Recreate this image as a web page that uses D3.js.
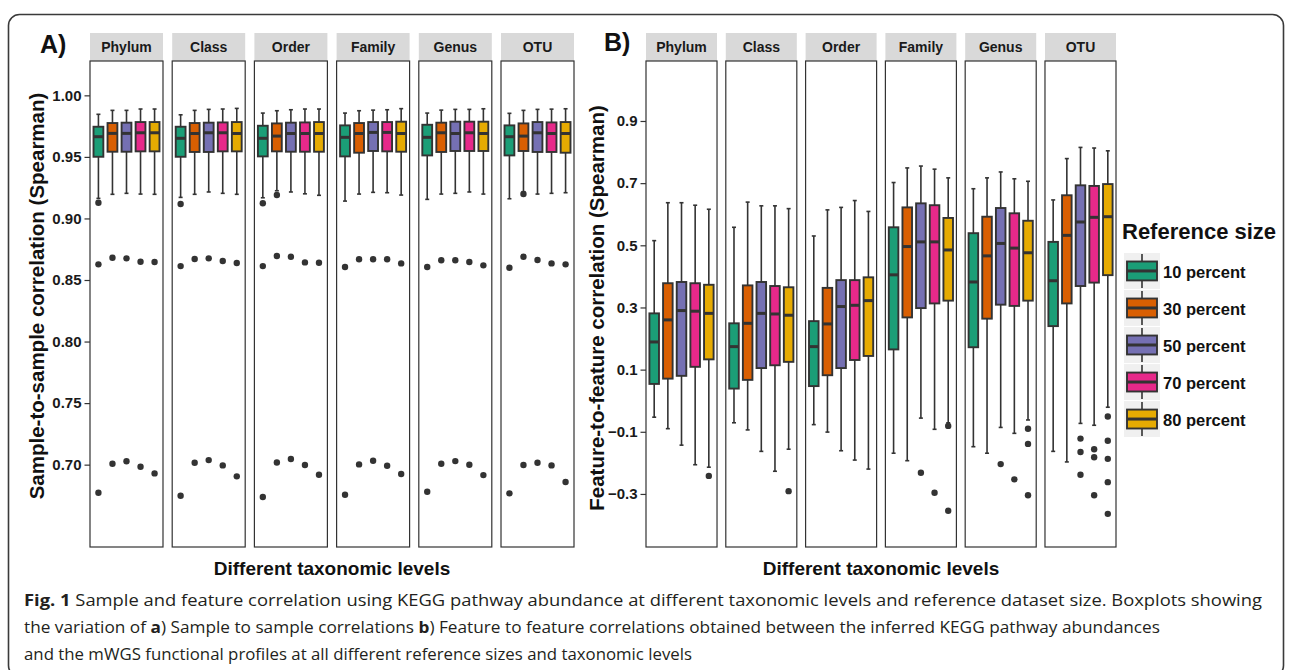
<!DOCTYPE html>
<html>
<head>
<meta charset="utf-8">
<script src="https://cdn.jsdelivr.net/npm/d3@7"></script>
<style>
  html, body { margin: 0; padding: 0; background: #ffffff; }
  svg { display: block; }
</style>
</head>
<body>
<svg id="fig" width="1292" height="670"></svg>
<script>
// ---- data -------------------------------------------------------------
const levels = ["Phylum", "Class", "Order", "Family", "Genus", "OTU"];
const refSizes = ["10 percent", "30 percent", "50 percent", "70 percent", "80 percent"];
const sizeColors = ["#1B9E77", "#D95F02", "#7570B3", "#E7298A", "#E6AB02"];

// A) sample-to-sample Spearman correlation: one row per level, one column per reference size
const sampleLow = [
  [0.9163, 0.9196, 0.9204, 0.9198, 0.9196],
  [0.9171, 0.9196, 0.9215, 0.9204, 0.9196],
  [0.9168, 0.9225, 0.9215, 0.9200, 0.9188],
  [0.9141, 0.9198, 0.9212, 0.9209, 0.9190],
  [0.9155, 0.9198, 0.9204, 0.9215, 0.9198],
  [0.9160, 0.9217, 0.9198, 0.9204, 0.9209]
];
const sampleQ1 = [
  [0.9501, 0.9542, 0.9542, 0.9545, 0.9545],
  [0.9501, 0.9540, 0.9540, 0.9545, 0.9545],
  [0.9504, 0.9545, 0.9542, 0.9542, 0.9542],
  [0.9504, 0.9534, 0.9548, 0.9545, 0.9542],
  [0.9512, 0.9540, 0.9548, 0.9548, 0.9548],
  [0.9512, 0.9548, 0.9540, 0.9540, 0.9534]
];
const sampleMedian = [
  [0.9664, 0.9691, 0.9691, 0.9696, 0.9696],
  [0.9651, 0.9690, 0.9696, 0.9696, 0.9690],
  [0.9651, 0.9669, 0.9690, 0.9690, 0.9690],
  [0.9659, 0.9690, 0.9699, 0.9699, 0.9690],
  [0.9659, 0.9696, 0.9690, 0.9696, 0.9690],
  [0.9664, 0.9669, 0.9696, 0.9690, 0.9690]
];
const sampleQ3 = [
  [0.9745, 0.9775, 0.9778, 0.9783, 0.9783],
  [0.9745, 0.9775, 0.9778, 0.9780, 0.9783],
  [0.9753, 0.9772, 0.9778, 0.9780, 0.9783],
  [0.9756, 0.9775, 0.9783, 0.9783, 0.9786],
  [0.9761, 0.9778, 0.9786, 0.9786, 0.9786],
  [0.9756, 0.9772, 0.9783, 0.9780, 0.9783]
];
const sampleHigh = [
  [0.9846, 0.9878, 0.9878, 0.9889, 0.9889],
  [0.9842, 0.9878, 0.9886, 0.9889, 0.9894],
  [0.9856, 0.9875, 0.9883, 0.9889, 0.9889],
  [0.9856, 0.9875, 0.9880, 0.9883, 0.9892],
  [0.9856, 0.9880, 0.9886, 0.9886, 0.9891],
  [0.9854, 0.9878, 0.9886, 0.9888, 0.9891]
];
const sampleOutliers = [
  [[0.9128, 0.8627, 0.6772], [0.8681, 0.7007], [0.8676, 0.7027], [0.8648, 0.6983], [0.8646, 0.6929]],
  [[0.9117, 0.8613, 0.6747], [0.8670, 0.7015], [0.8676, 0.7037], [0.8654, 0.6994], [0.8638, 0.6905]],
  [[0.9123, 0.8613, 0.6737], [0.9190, 0.8695, 0.7018], [0.8689, 0.7046], [0.8643, 0.6997], [0.8640, 0.6918]],
  [[0.8605, 0.6756], [0.8668, 0.7002], [0.8668, 0.7032], [0.8668, 0.6991], [0.8635, 0.6924]],
  [[0.8605, 0.6780], [0.8660, 0.7007], [0.8660, 0.7029], [0.8646, 0.6999], [0.8619, 0.6915]],
  [[0.8600, 0.6767], [0.9198, 0.8689, 0.6997], [0.8662, 0.7015], [0.8635, 0.6994], [0.8627, 0.6859]]
];

// B) feature-to-feature Spearman correlation
const featureLow = [
  [-0.053, -0.090, -0.143, -0.206, -0.214],
  [-0.071, -0.094, -0.163, -0.227, -0.156],
  [-0.077, -0.101, -0.161, -0.191, -0.220],
  [-0.169, -0.193, -0.056, -0.092, -0.071],
  [-0.148, -0.169, -0.086, -0.105, -0.062],
  [-0.163, -0.197, -0.073, -0.079, -0.021]
];
const featureQ1 = [
  [0.054, 0.071, 0.080, 0.109, 0.133],
  [0.039, 0.067, 0.105, 0.114, 0.125],
  [0.047, 0.082, 0.105, 0.131, 0.144],
  [0.165, 0.268, 0.298, 0.313, 0.322],
  [0.172, 0.264, 0.309, 0.305, 0.322],
  [0.240, 0.313, 0.369, 0.380, 0.404]
];
const featureMedian = [
  [0.189, 0.260, 0.290, 0.288, 0.281],
  [0.174, 0.249, 0.281, 0.279, 0.275],
  [0.174, 0.247, 0.303, 0.307, 0.322],
  [0.405, 0.496, 0.511, 0.511, 0.485],
  [0.382, 0.466, 0.506, 0.491, 0.476],
  [0.386, 0.532, 0.575, 0.590, 0.592]
];
const featureQ3 = [
  [0.281, 0.378, 0.382, 0.378, 0.373],
  [0.249, 0.371, 0.382, 0.369, 0.365],
  [0.256, 0.363, 0.388, 0.388, 0.397],
  [0.558, 0.622, 0.635, 0.629, 0.588],
  [0.539, 0.592, 0.620, 0.603, 0.579],
  [0.511, 0.661, 0.693, 0.691, 0.697]
];
const featureHigh = [
  [0.515, 0.637, 0.637, 0.629, 0.616],
  [0.558, 0.639, 0.627, 0.627, 0.618],
  [0.530, 0.614, 0.622, 0.644, 0.609],
  [0.702, 0.749, 0.755, 0.745, 0.717],
  [0.682, 0.717, 0.736, 0.714, 0.706],
  [0.646, 0.779, 0.815, 0.813, 0.804]
];
const featureOutliers = [
  [[], [], [], [], [-0.242]],
  [[], [], [], [], [-0.291]],
  [[], [], [], [], []],
  [[], [], [-0.232], [-0.296], [-0.081, -0.354]],
  [[], [], [-0.204], [-0.253], [-0.090, -0.139, -0.304]],
  [[], [], [-0.122, -0.165, -0.238], [-0.156, -0.182, -0.304], [-0.051, -0.129, -0.187, -0.262, -0.364]]
];

const sampleTicks = [0.70, 0.75, 0.80, 0.85, 0.90, 0.95, 1.00];
const featureTicks = [-0.3, -0.1, 0.1, 0.3, 0.5, 0.7, 0.9];

// ---- drawing ----------------------------------------------------------
const svg = d3.select("#fig");
const FONT = "'Liberation Sans', Arial, Helvetica, sans-serif";
const INK = "#333333";
const PANEL_TOP = 61, PANEL_BOTTOM = 547, STRIP_TOP = 33;

// rounded frame around the figure
svg.append("rect")
  .attr("x", 8.5).attr("y", 14.5).attr("width", 1275).attr("height", 662)
  .attr("rx", 11).attr("fill", "none")
  .attr("stroke", "#3a3a3a").attr("stroke-width", 1.6);

function drawPanel(p) {
  const g = svg.append("g");
  const facet = d3.scaleBand().domain(levels).range(p.xRange).paddingInner(p.gap);
  const bw = facet.bandwidth();
  const y = d3.scaleLinear().domain(p.yDomain).range([PANEL_BOTTOM, PANEL_TOP]);
  const inner = d3.scalePoint().domain(refSizes).range([0, bw]).padding(0.6);
  const boxW = inner.step() * 0.7;
  const capW = 2;

  levels.forEach((lv, li) => {
    const x0 = facet(lv);
    // facet strip
    g.append("rect")
      .attr("x", x0).attr("y", STRIP_TOP).attr("width", bw).attr("height", PANEL_TOP - STRIP_TOP)
      .attr("fill", "#d9d9d9");
    g.append("text")
      .attr("x", x0 + bw / 2).attr("y", 52)
      .attr("text-anchor", "middle")
      .attr("font-family", FONT).attr("font-weight", "bold").attr("font-size", 14)
      .attr("fill", "#1a1a1a")
      .text(lv);

    const pg = g.append("g").attr("transform", `translate(${x0},0)`);
    pg.append("rect")
      .attr("x", 0).attr("y", PANEL_TOP).attr("width", bw).attr("height", PANEL_BOTTOM - PANEL_TOP)
      .attr("fill", "#ffffff");

    refSizes.forEach((rs, si) => {
      const cx = inner(rs);
      const lo = p.low[li][si], q1 = p.q1[li][si], med = p.median[li][si],
            q3 = p.q3[li][si], hi = p.high[li][si];
      // whiskers with small caps
      pg.append("line").attr("x1", cx).attr("x2", cx).attr("y1", y(q3)).attr("y2", y(hi))
        .attr("stroke", INK).attr("stroke-width", 1.6);
      pg.append("line").attr("x1", cx).attr("x2", cx).attr("y1", y(q1)).attr("y2", y(lo))
        .attr("stroke", INK).attr("stroke-width", 1.6);
      [hi, lo].forEach(v => {
        pg.append("line").attr("x1", cx - capW).attr("x2", cx + capW).attr("y1", y(v)).attr("y2", y(v))
          .attr("stroke", INK).attr("stroke-width", 1.6);
      });
      // box
      pg.append("rect")
        .attr("x", cx - boxW / 2).attr("y", y(q3))
        .attr("width", boxW).attr("height", y(q1) - y(q3))
        .attr("fill", sizeColors[si]).attr("stroke", INK).attr("stroke-width", 1.9);
      // median
      pg.append("line").attr("x1", cx - boxW / 2).attr("x2", cx + boxW / 2)
        .attr("y1", y(med)).attr("y2", y(med))
        .attr("stroke", INK).attr("stroke-width", 3);
      // outliers
      p.outliers[li][si].forEach(v => {
        pg.append("circle").attr("cx", cx).attr("cy", y(v)).attr("r", 3.2).attr("fill", INK);
      });
    });

    // panel border
    g.append("rect")
      .attr("x", x0).attr("y", PANEL_TOP).attr("width", bw).attr("height", PANEL_BOTTOM - PANEL_TOP)
      .attr("fill", "none").attr("stroke", INK).attr("stroke-width", 1.2);
  });

  // y axis
  const axis = d3.axisLeft(y).tickValues(p.ticks).tickFormat(d3.format(p.fmt))
    .tickSize(5.5).tickPadding(3);
  const ag = g.append("g").attr("transform", `translate(${p.xRange[0]},0)`).call(axis);
  ag.select(".domain").remove();
  ag.selectAll(".tick line").attr("stroke", INK).attr("stroke-width", 1.2);
  ag.selectAll(".tick text")
    .attr("font-family", FONT).attr("font-weight", "bold").attr("font-size", 15)
    .attr("fill", "#1a1a1a");

  // axis titles
  g.append("text")
    .attr("transform", `translate(${p.yTitleX},${p.yTitleY}) rotate(-90)`)
    .attr("text-anchor", "middle")
    .attr("font-family", FONT).attr("font-weight", "bold").attr("font-size", 20.5)
    .attr("fill", "#111")
    .text(p.yTitle);
  g.append("text")
    .attr("x", (p.xRange[0] + p.xRange[1]) / 2).attr("y", 575)
    .attr("text-anchor", "middle")
    .attr("font-family", FONT).attr("font-weight", "bold").attr("font-size", 19)
    .attr("fill", "#111")
    .text("Different taxonomic levels");

  // panel tag
  g.append("text")
    .attr("x", p.tagX).attr("y", p.tagY)
    .attr("font-family", FONT).attr("font-weight", "bold").attr("font-size", 25)
    .attr("fill", "#111")
    .text(p.tag);
}

drawPanel({
  xRange: [90, 574], gap: 0.112,
  yDomain: [0.6331, 1.0279], ticks: sampleTicks, fmt: ".2f",
  low: sampleLow, q1: sampleQ1, median: sampleMedian, q3: sampleQ3, high: sampleHigh,
  outliers: sampleOutliers,
  yTitle: "Sample-to-sample correlation (Spearman)", yTitleX: 44, yTitleY: 296,
  tag: "A)", tagX: 40, tagY: 53
});

drawPanel({
  xRange: [646, 1116], gap: 0.110,
  yDomain: [-0.4707, 1.093], ticks: featureTicks, fmt: ".1f",
  low: featureLow, q1: featureQ1, median: featureMedian, q3: featureQ3, high: featureHigh,
  outliers: featureOutliers,
  yTitle: "Feature-to-feature correlation (Spearman)", yTitleX: 604, yTitleY: 308,
  tag: "B)", tagX: 604, tagY: 51
});

// ---- legend -----------------------------------------------------------
const legend = svg.append("g");
legend.append("text")
  .attr("x", 1122).attr("y", 239)
  .attr("font-family", FONT).attr("font-weight", "bold").attr("font-size", 22)
  .attr("fill", "#111")
  .text("Reference size");
const keyY = d3.scaleBand().domain(refSizes).range([253, 437]).paddingInner(0.03);
refSizes.forEach((rs, si) => {
  const top = keyY(rs), h = keyY.bandwidth();
  const kx = 1124, kw = 36, cx = kx + kw / 2;
  legend.append("rect").attr("x", kx).attr("y", top).attr("width", kw).attr("height", h)
    .attr("fill", "#f0f0f0");
  legend.append("line").attr("x1", cx).attr("x2", cx).attr("y1", top + 1).attr("y2", top + h - 1)
    .attr("stroke", INK).attr("stroke-width", 1.6);
  legend.append("rect").attr("x", kx + 3).attr("y", top + 8.5).attr("width", kw - 6).attr("height", h - 17)
    .attr("fill", sizeColors[si]).attr("stroke", INK).attr("stroke-width", 1.9);
  legend.append("line").attr("x1", kx + 3).attr("x2", kx + kw - 3).attr("y1", top + h / 2).attr("y2", top + h / 2)
    .attr("stroke", INK).attr("stroke-width", 3);
  legend.append("text")
    .attr("x", 1163).attr("y", top + 25.3)
    .attr("font-family", FONT).attr("font-weight", "bold").attr("font-size", 16.5)
    .attr("fill", "#111")
    .text(rs);
});

// ---- caption ----------------------------------------------------------
const CAP_FONT = "'Open Sans', 'Noto Sans', sans-serif";
const CAP_SIZE = 16.8;
const captionLines = [
  [["Fig. 1", true], [" Sample and feature correlation using KEGG pathway abundance at different taxonomic levels and reference dataset size. Boxplots showing", false]],
  [["the variation of ", false], ["a", true], [") Sample to sample correlations ", false], ["b", true], [") Feature to feature correlations obtained between the inferred KEGG pathway abundances", false]],
  [["and the mWGS functional profiles at all different reference sizes and taxonomic levels", false]]
];
const capBaselines = [606, 633, 660];
const capWidths = [1238, 1136, 668];   // set width of each caption line
captionLines.forEach((parts, i) => {
  const t = svg.append("text")
    .attr("x", 24).attr("y", capBaselines[i])
    .attr("font-family", CAP_FONT).attr("font-size", CAP_SIZE)
    .attr("fill", "#231f20")
    .attr("textLength", capWidths[i])
    .attr("lengthAdjust", "spacingAndGlyphs");
  parts.forEach(([s, b]) => {
    t.append("tspan").attr("font-weight", b ? "bold" : "normal").text(s);
  });
});
</script>
</body>
</html>
